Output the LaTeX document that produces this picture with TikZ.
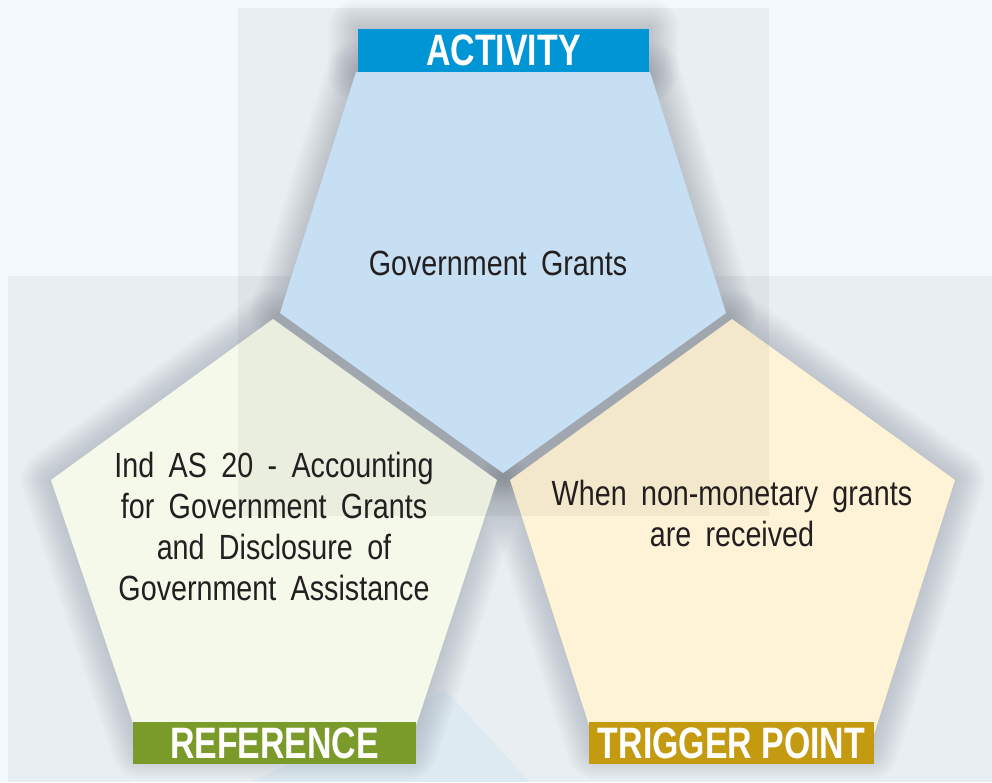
\documentclass[tikz,border=0pt]{standalone}
\usepackage{fontspec}
\setmainfont{Liberation Sans}[FakeStretch=0.82, WordSpace=1.8]
\newfontfamily\bannerfont{Liberation Sans}[FakeStretch=0.77]
\definecolor{bgc}{HTML}{F4F9FD}
\definecolor{shadowc}{HTML}{4A5262}
\definecolor{pblue}{HTML}{D1EAFD}
\definecolor{pgreen}{HTML}{F5F9E9}
\definecolor{pyellow}{HTML}{FEF3D6}
\definecolor{actblue}{HTML}{0096D6}
\definecolor{refgreen}{HTML}{7A9A2A}
\definecolor{triggold}{HTML}{C49A10}
\definecolor{txt}{HTML}{231F20}
\definecolor{decoblue}{HTML}{C6E2F3}
\newcommand\softshadow[1]{%
  \foreach \i in {1,...,15}{%
    \draw[shadowc, line width=4*\i pt, line join=round, opacity=0.015] #1 -- cycle;}}
\begin{document}
\begin{tikzpicture}[x=1pt,y=-1pt,
  bodytext/.style={text=txt, inner sep=0pt, font=\fontsize{35}{41}\selectfont},
  banner/.style={text=white, inner sep=0pt, font=\bannerfont\bfseries\fontsize{44}{44}\selectfont},
  panel/.style={fill=black, opacity=0.045}]
% background
\fill[bgc] (0,0) rectangle (992,782);
\useasboundingbox (0,0) rectangle (992,782);
\fill[panel] (8,276) rectangle (992,782);
\fill[decoblue, opacity=0.3] (250,782) -- (445,690) -- (530,782) -- cycle;
% shadows
\softshadow{(356,72) -- (650,72) -- (726,313) -- (503,473) -- (280,313)}
\softshadow{(273,319) -- (497,480) -- (408,750) -- (142,750) -- (51,480)}
\softshadow{(732,319) -- (955,480) -- (869,750) -- (597,750) -- (510,480)}
\softshadow{(358,29) -- (649,29) -- (649,72) -- (358,72)}
% pentagons
\fill[pblue] (356,72) -- (650,72) -- (726,313) -- (503,473) -- (280,313) -- cycle;
\fill[pgreen] (273,319) -- (497,480) -- (408,750) -- (142,750) -- (51,480) -- cycle;
\fill[pyellow] (732,319) -- (955,480) -- (869,750) -- (597,750) -- (510,480) -- cycle;
% overlay panel
\fill[panel] (238,8) rectangle (769,516);
% banners
\node[banner, fill=actblue, minimum width=291pt, minimum height=43pt] (act) at (503.5,50.5) {ACTIVITY};
\node[banner, fill=refgreen, minimum width=283pt, minimum height=42pt] (ref) at (274.5,743) {REFERENCE};
\node[banner, fill=triggold, minimum width=285pt, minimum height=42pt] (trig) at (731.5,743) {TRIGGER POINT};
% texts
\node[bodytext, anchor=base] (acttext) at (498,275) {Government Grants};
\node[bodytext, anchor=north, align=center] (reftext) at (274,452) {Ind AS 20 - Accounting\\for Government Grants\\and Disclosure of\\Government Assistance};
\node[bodytext, anchor=north, align=center] (trigtext) at (732,480) {When non-monetary grants\\are received};
\end{tikzpicture}
\end{document}
